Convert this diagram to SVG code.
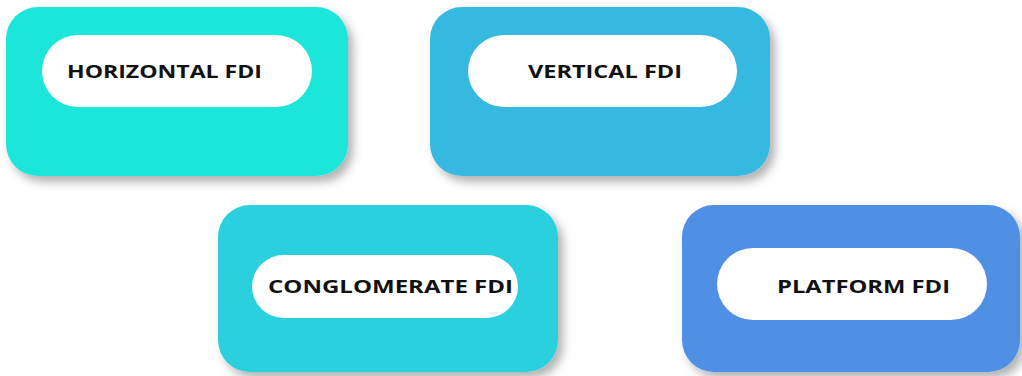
<svg xmlns="http://www.w3.org/2000/svg" width="1022" height="376" viewBox="0 0 1022 376">
<style>
.box{filter:url(#sh)}
.pill{fill:#ffffff}
.lbl{font-family:"Open Sans","Liberation Sans",sans-serif;font-weight:bold;font-size:18px;fill:#111111}
</style>
<defs>
<filter id="sh" x="-10%" y="-10%" width="125%" height="130%">
<feDropShadow dx="5" dy="6" stdDeviation="5" flood-color="#000000" flood-opacity="0.3"/>
</filter>
</defs>
<rect width="1022" height="376" fill="#ffffff"/>
<g id="connectors"></g>
<g id="node-horizontal">
<rect class="box" x="6" y="7" width="342" height="169" rx="32" fill="#1EE6D9"/>
<rect class="pill" x="42" y="35" width="270" height="72" rx="36"/>
<text class="lbl" x="67" y="78" textLength="195" lengthAdjust="spacingAndGlyphs">HORIZONTAL FDI</text>
</g>
<g id="node-vertical">
<rect class="box" x="430" y="7" width="340" height="169" rx="32" fill="#34B9E0"/>
<rect class="pill" x="468" y="35" width="269" height="72" rx="36"/>
<text class="lbl" x="528" y="78" textLength="154" lengthAdjust="spacingAndGlyphs">VERTICAL FDI</text>
</g>
<g id="node-conglomerate">
<rect class="box" x="218" y="205" width="340" height="167" rx="32" fill="#2CD0DE"/>
<rect class="pill" x="252" y="255" width="266" height="63" rx="31.5"/>
<text class="lbl" x="268" y="293" textLength="245" lengthAdjust="spacingAndGlyphs">CONGLOMERATE FDI</text>
</g>
<g id="node-platform">
<rect class="box" x="682" y="205" width="338" height="167" rx="32" fill="#4F8FE4"/>
<rect class="pill" x="717" y="248" width="270" height="72" rx="36"/>
<text class="lbl" x="777" y="293" textLength="173" lengthAdjust="spacingAndGlyphs">PLATFORM FDI</text>
</g>
</svg>
